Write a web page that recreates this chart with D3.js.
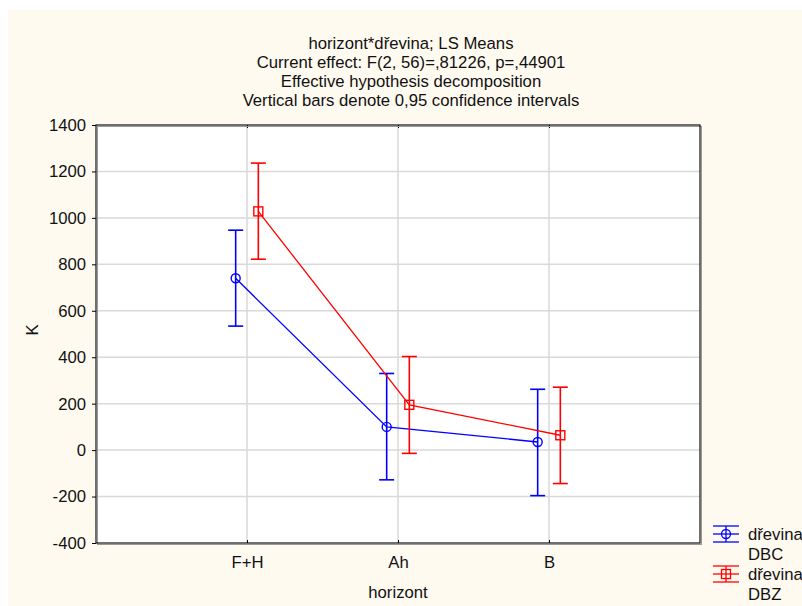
<!DOCTYPE html>
<html>
<head>
<meta charset="utf-8">
<script src="https://cdn.jsdelivr.net/npm/d3@7"></script>
<style>
  html, body { margin: 0; padding: 0; background: #fff; }
  text { font-family: "Liberation Sans", Arial, sans-serif; fill: #111; }
</style>
</head>
<body>
<div id="viz"></div>
<script>
// data
const categories = ["F+H", "Ah", "B"];
const yTicks = [-400, -200, 0, 200, 400, 600, 800, 1000, 1200, 1400];

const dbcMean = [740, 100, 35];
const dbcLow = [534, -128, -196];
const dbcHigh = [947, 330, 262];

const dbzMean = [1028, 195, 64];
const dbzLow = [822, -14, -144];
const dbzHigh = [1236, 403, 271];

const titleLines = [
  "horizont*dřevina; LS Means",
  "Current effect: F(2, 56)=,81226, p=,44901",
  "Effective hypothesis decomposition",
  "Vertical bars denote 0,95 confidence intervals"
];

const WIDTH = 802, HEIGHT = 606;
const MARGIN = {left: 96, right: 102, top: 125, bottom: 63};
const FONT = "16.7px";

const series = [
  {name: "DBC", color: "#0000ff", mean: dbcMean, low: dbcLow, high: dbcHigh, shift: -0.075, shape: "circle"},
  {name: "DBZ", color: "#ff0000", mean: dbzMean, low: dbzLow, high: dbzHigh, shift: 0.075, shape: "square"}
];

const svg = d3.select("#viz").append("svg")
  .attr("width", WIDTH)
  .attr("height", HEIGHT);

// cream panel
svg.append("rect")
  .attr("x", 8).attr("y", 10)
  .attr("width", WIDTH - 8).attr("height", HEIGHT - 10)
  .attr("fill", "#fffaf0");

const x = d3.scaleLinear()
  .domain([0, categories.length + 1])
  .range([MARGIN.left, WIDTH - MARGIN.right]);

const y = d3.scaleLinear()
  .domain([-400, 1400])
  .range([HEIGHT - MARGIN.bottom, MARGIN.top]);

// plot area
svg.append("rect")
  .attr("x", x.range()[0]).attr("y", y.range()[1])
  .attr("width", x.range()[1] - x.range()[0])
  .attr("height", y.range()[0] - y.range()[1])
  .attr("fill", "#fff");

// grid
const grid = svg.append("g").attr("stroke", "#d9d9d9").attr("stroke-width", 1.5);
grid.selectAll("line.h")
  .data(yTicks.slice(1, -1))
  .join("line")
  .attr("x1", x.range()[0]).attr("x2", x.range()[1])
  .attr("y1", d => y(d)).attr("y2", d => y(d));
grid.selectAll("line.v")
  .data(categories)
  .join("line")
  .attr("x1", (d, i) => x(i + 1)).attr("x2", (d, i) => x(i + 1))
  .attr("y1", y.range()[1]).attr("y2", y.range()[0]);

// axes
const yAxis = svg.append("g")
  .attr("transform", `translate(${x.range()[0]},0)`)
  .call(d3.axisLeft(y).tickValues(yTicks).tickSize(4).tickPadding(6).tickFormat(d => String(d)));
yAxis.select(".domain").remove();
yAxis.selectAll("text").style("font-size", FONT).attr("font-family", null);

const xAxis = svg.append("g")
  .attr("transform", `translate(0,${y.range()[0]})`)
  .call(d3.axisBottom(x).tickValues(categories.map((d, i) => i + 1))
    .tickSize(-3).tickPadding(13).tickFormat(d => categories[d - 1]));
xAxis.select(".domain").remove();
xAxis.selectAll("text").style("font-size", FONT).attr("font-family", null);

svg.append("g")
  .attr("transform", `translate(0,${y.range()[1]})`)
  .call(d3.axisTop(x).tickValues(categories.map((d, i) => i + 1)).tickSize(-3).tickFormat(""))
  .select(".domain").remove();

// frame with a little shadow
svg.append("rect")
  .attr("x", x.range()[0] + 1.5).attr("y", y.range()[1] + 1.5)
  .attr("width", x.range()[1] - x.range()[0])
  .attr("height", y.range()[0] - y.range()[1])
  .attr("fill", "none").attr("stroke", "#999").attr("stroke-width", 1);
svg.append("rect")
  .attr("x", x.range()[0]).attr("y", y.range()[1])
  .attr("width", x.range()[1] - x.range()[0])
  .attr("height", y.range()[0] - y.range()[1])
  .attr("fill", "none").attr("stroke", "#111").attr("stroke-width", 1.2);

// series
series.forEach(s => {
  const g = svg.append("g").attr("stroke", s.color).attr("fill", "none");
  const pts = s.mean.map((m, i) => [x(i + 1 + s.shift), y(m)]);

  g.append("path")
    .attr("d", d3.line()(pts))
    .attr("stroke-width", 1.3);

  g.selectAll("line.bar")
    .data(s.mean)
    .join("line")
    .attr("stroke-width", 1.6)
    .attr("x1", (d, i) => x(i + 1 + s.shift)).attr("x2", (d, i) => x(i + 1 + s.shift))
    .attr("y1", (d, i) => y(s.low[i])).attr("y2", (d, i) => y(s.high[i]));

  [s.low, s.high].forEach(arr => {
    g.selectAll(null)
      .data(arr)
      .join("line")
      .attr("stroke-width", 1.6)
      .attr("x1", (d, i) => x(i + 1 + s.shift) - 7.5).attr("x2", (d, i) => x(i + 1 + s.shift) + 7.5)
      .attr("y1", d => y(d)).attr("y2", d => y(d));
  });

  if (s.shape === "circle") {
    g.selectAll("circle")
      .data(pts)
      .join("circle")
      .attr("cx", d => d[0]).attr("cy", d => d[1]).attr("r", 4.5)
      .attr("stroke-width", 1.4);
  } else {
    g.selectAll("rect")
      .data(pts)
      .join("rect")
      .attr("x", d => d[0] - 4.5).attr("y", d => d[1] - 4.5)
      .attr("width", 9).attr("height", 9)
      .attr("stroke-width", 1.4);
  }
});

// titles
svg.selectAll("text.title")
  .data(titleLines)
  .join("text")
  .attr("class", "title")
  .attr("x", 411)
  .attr("y", (d, i) => 49 + i * 19)
  .attr("text-anchor", "middle")
  .style("font-size", FONT)
  .text(d => d);

svg.append("text")
  .attr("x", 398).attr("y", 598)
  .attr("text-anchor", "middle")
  .style("font-size", FONT)
  .text("horizont");

svg.append("text")
  .attr("transform", "translate(38,330) rotate(-90)")
  .attr("text-anchor", "middle")
  .style("font-size", FONT)
  .text("K");

// legend
series.forEach((s, k) => {
  const cy = 534 + k * 40, x0 = 713, x1 = 739, cx = (x0 + x1) / 2;
  const g = svg.append("g").attr("stroke", s.color).attr("fill", "none").attr("stroke-width", 1.3);
  [-8, 0, 8].forEach(dy => g.append("line").attr("x1", x0).attr("x2", x1).attr("y1", cy + dy).attr("y2", cy + dy));
  g.append("line").attr("x1", cx).attr("x2", cx).attr("y1", cy - 8).attr("y2", cy + 8);
  if (s.shape === "circle") {
    g.append("circle").attr("cx", cx).attr("cy", cy).attr("r", 4.5);
  } else {
    g.append("rect").attr("x", cx - 4.5).attr("y", cy - 4.5).attr("width", 9).attr("height", 9);
  }
  svg.append("text").attr("x", 748).attr("y", cy + 6).style("font-size", FONT).text("dřevina");
  svg.append("text").attr("x", 748).attr("y", cy + 26).style("font-size", FONT).text(s.name);
});
</script>
</body>
</html>
